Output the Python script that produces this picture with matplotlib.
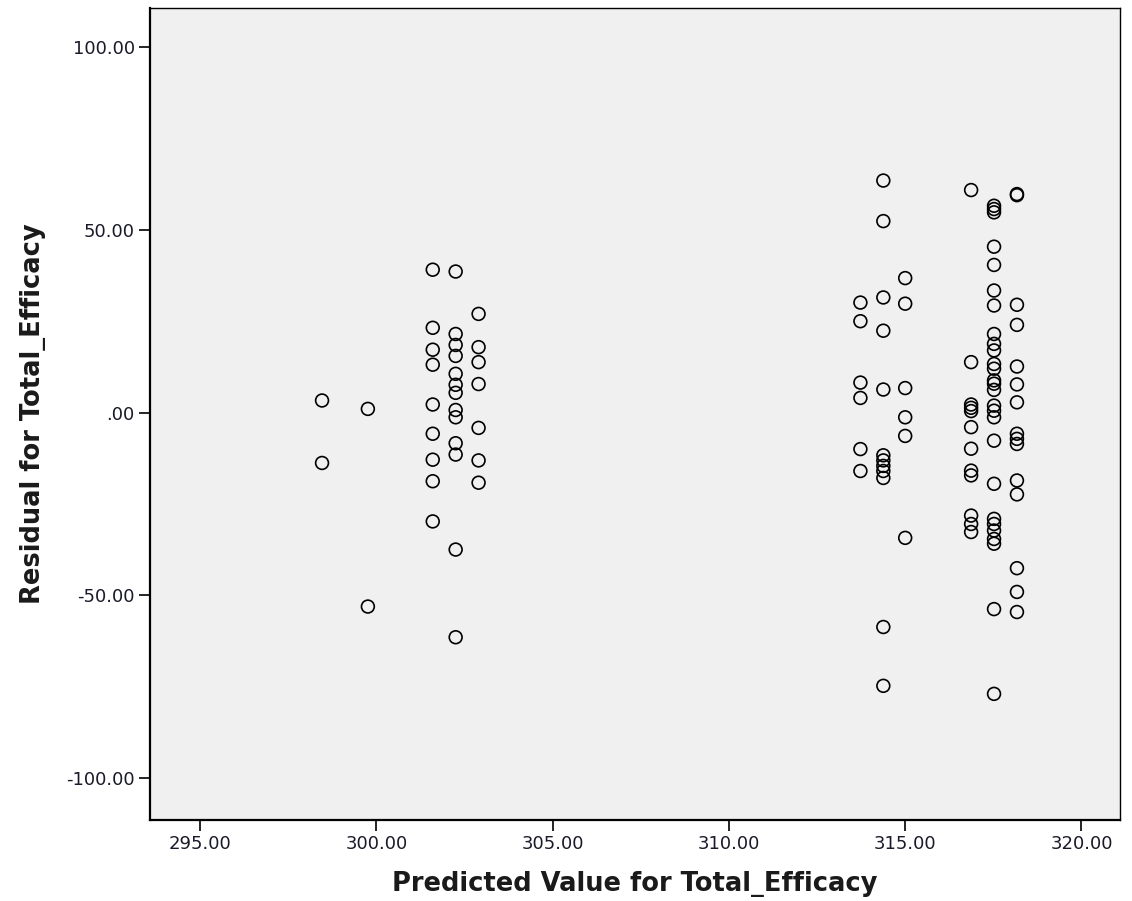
import numpy as np
import matplotlib
matplotlib.use("Agg")
import matplotlib.pyplot as plt
from matplotlib.ticker import FormatStrFormatter, FuncFormatter

# predicted values (one column of points per level) and the residuals at each level
pred_levels = [298.46, 299.76, 301.60, 302.25, 302.90,
               313.73, 314.38, 315.00, 316.87, 317.52, 318.17]

resid_29846 = [3.3, -13.8]
resid_29976 = [1.0, -53.1]
resid_30160 = [39.1, 23.2, 17.2, 13.1, 2.2, -5.8, -12.9, -18.8, -29.8]
resid_30225 = [38.6, 21.5, 18.5, 15.5, 10.6, 7.6, 5.4, 0.7, -1.3, -8.4, -11.5, -37.5, -61.5]
resid_30290 = [27.0, 17.9, 13.8, 7.8, -4.2, -13.1, -19.2]
resid_31373 = [30.1, 25.0, 8.2, 4.0, -10.0, -16.0]
resid_31438 = [63.5, 52.4, 31.5, 22.4, 6.3, -11.7, -13.1, -14.6, -16.0, -17.9, -58.7, -74.8]
resid_31500 = [36.8, 29.8, 6.7, -1.3, -6.4, -34.3]
resid_31687 = [60.9, 13.8, 2.2, 1.3, 0.4, -4.0, -9.9, -15.9, -17.2, -28.2, -30.5, -32.7]
resid_31752 = [56.6, 55.7, 54.8, 45.4, 40.4, 33.4, 29.3, 21.5, 18.8, 17.0, 13.3, 12.0,
               8.8, 7.9, 6.2, 1.9, 0.5, -1.3, -7.7, -19.5, -29.1, -30.5, -32.3, -34.6,
               -35.9, -53.8, -77.0]
resid_31817 = [59.8, 59.5, 29.5, 24.0, 12.6, 7.7, 2.8, -5.8, -7.2, -8.6, -18.6, -22.4,
               -42.6, -49.1, -54.6]

all_resid = [resid_29846, resid_29976, resid_30160, resid_30225, resid_30290,
             resid_31373, resid_31438, resid_31500, resid_31687, resid_31752, resid_31817]

x_ticks = [295, 300, 305, 310, 315, 320]
y_ticks = [-100, -50, 0, 50, 100]

xs = np.concatenate([[p] * len(r) for p, r in zip(pred_levels, all_resid)])
ys = np.concatenate(all_resid)

fig = plt.figure(figsize=(11.32, 9.01), dpi=100)
ax = fig.add_axes([0.1325, 0.09, 0.8565, 0.901])
ax.set_facecolor("#f0f0f0")

ax.scatter(xs, ys, s=85, facecolors="none", edgecolors="black", linewidths=1.2, zorder=3)

ax.set_xlim(293.58, 321.08)
ax.set_ylim(-111.5, 110.7)
ax.set_xticks(x_ticks)
ax.set_yticks(y_ticks)
ax.xaxis.set_major_formatter(FormatStrFormatter("%.2f"))
ax.yaxis.set_major_formatter(FuncFormatter(lambda v, p: "%.2f" % v if v != 0 else ".00"))

ax.tick_params(direction="out", length=8, width=1.2, colors="black",
               labelsize=13, labelcolor="#1a1a2a", top=False, right=False, pad=3)
for side in ["left", "bottom"]:
    ax.spines[side].set_linewidth(1.6)
for side in ["top", "right"]:
    ax.spines[side].set_linewidth(1.0)

ax.set_xlabel("Predicted Value for Total_Efficacy", fontsize=18.5, fontweight="bold",
              color="#1a1a1a", labelpad=13)
ax.set_ylabel("Residual for Total_Efficacy", fontsize=18.5, fontweight="bold",
              color="#1a1a1a", labelpad=14.5)

fig.savefig("out.png", dpi=100)
